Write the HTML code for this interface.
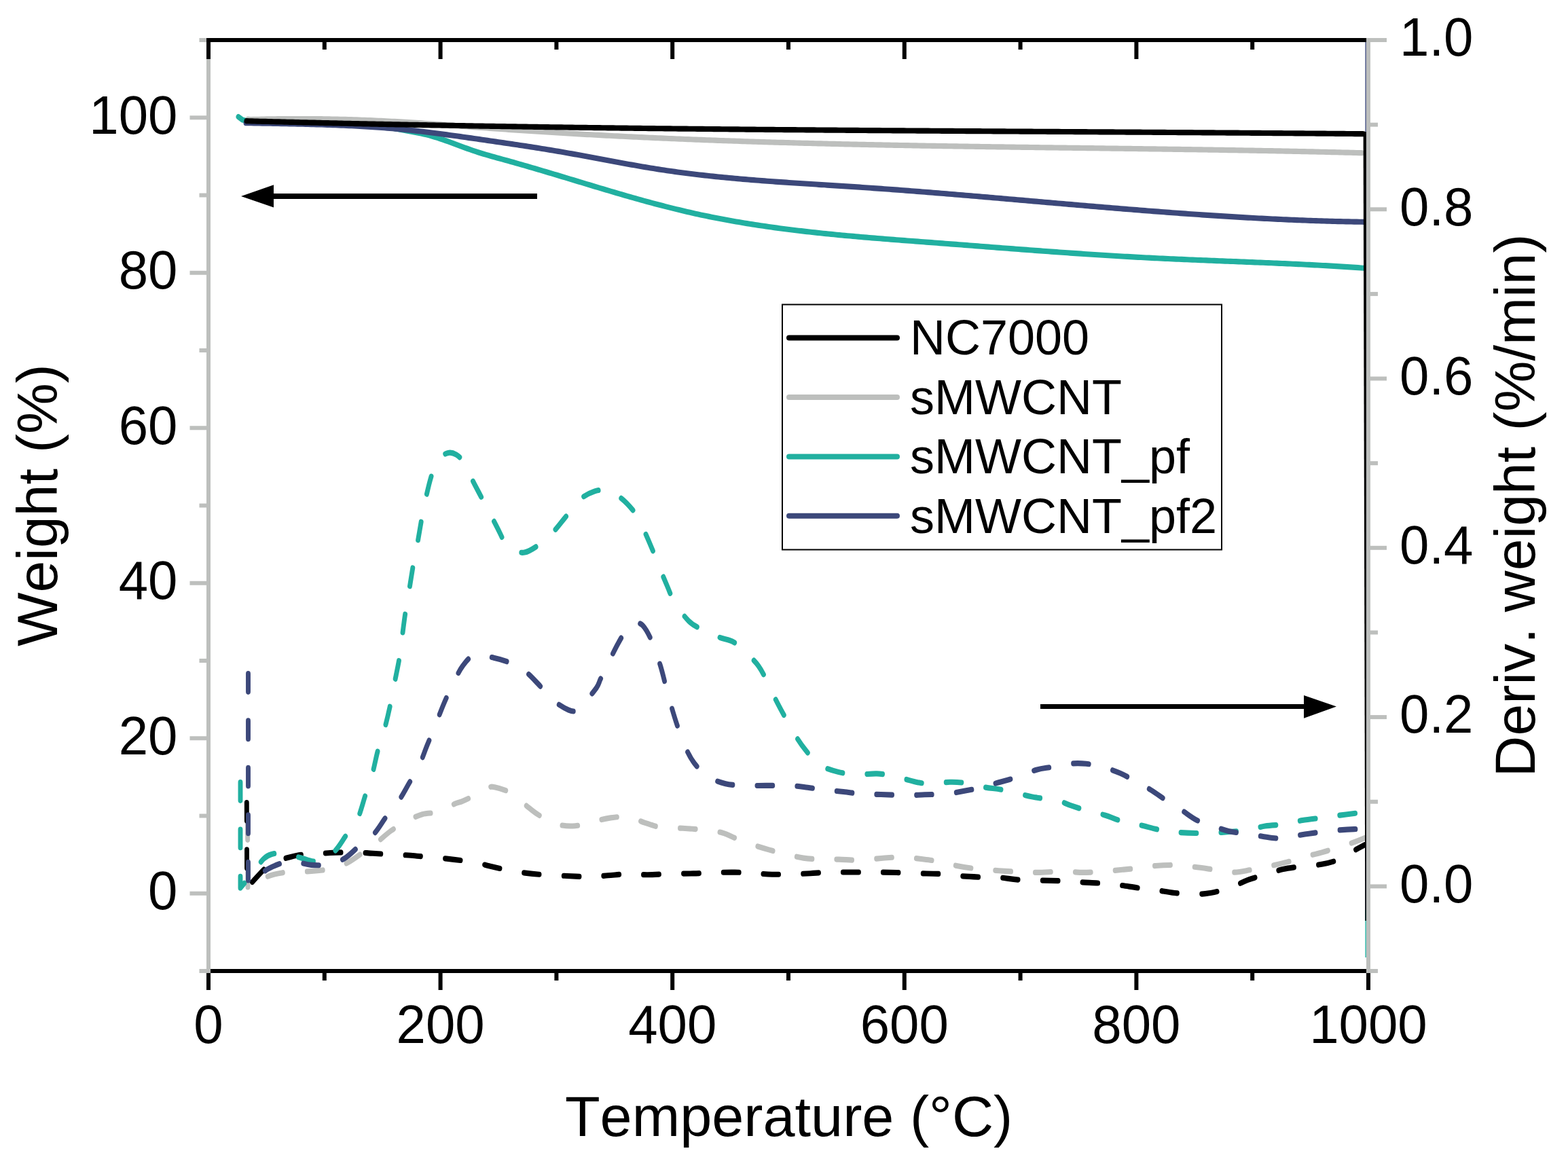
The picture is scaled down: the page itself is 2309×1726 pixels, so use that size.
<!DOCTYPE html>
<html><head><meta charset="utf-8"><title>TGA plot</title>
<style>html,body{margin:0;padding:0;background:#fff;}svg{display:block;}text{font-family:"Liberation Sans",Arial,sans-serif;fill:#000;font-kerning:none;font-feature-settings:"kern" 0;}</style>
</head><body>
<svg width="2309" height="1726" viewBox="0 0 2309 1726">
<rect x="0" y="0" width="2309" height="1726" fill="#fff"/>
<g transform="scale(1,1.18)">
<path d="M364.5 1025.42 C364.55 1032.49 364.72 1053.74 364.8 1067.8 C364.88 1081.85 364.97 1102.75 365 1109.75 C369.68 1107.18 384.05 1097.81 393.1 1094.32 C402.15 1090.83 410.22 1089.89 419.3 1088.81 C428.38 1087.74 438.35 1088.35 447.6 1087.88 C456.85 1087.42 468.27 1086.62 474.8 1086.02 C481.33 1085.41 480.63 1085.78 486.8 1084.24 C492.97 1082.7 502.6 1080.93 511.8 1076.78 C521 1072.63 534.97 1063.42 542 1059.32 C549.03 1055.23 548.35 1055.96 554 1052.2 C559.65 1048.45 568.63 1041.23 575.9 1036.78 C583.17 1032.33 589.95 1028.93 597.6 1025.51 C605.25 1022.09 613.73 1018.32 621.8 1016.27 C629.87 1014.22 637.93 1015.44 646 1013.22 C654.07 1011 664.53 1005.13 670.2 1002.97 C675.87 1000.81 676.03 1001.62 680 1000.25 C683.97 998.88 687.55 997.54 694 994.75 C700.45 991.95 712.97 985.52 718.7 983.47 C724.43 981.43 722.75 981.43 728.4 982.46 C734.05 983.49 744.93 985.9 752.6 989.66 C760.27 993.42 767.55 1000.38 774.4 1005 C781.25 1009.62 786.05 1013.43 793.7 1017.37 C801.35 1021.31 811.42 1026.43 820.3 1028.64 C829.18 1030.86 838.12 1031.2 847 1030.68 C855.88 1030.16 865.13 1027.15 873.6 1025.51 C882.07 1023.87 889.13 1021.86 897.8 1020.85 C906.47 1019.83 917.13 1018.46 925.6 1019.41 C934.07 1020.35 940.53 1024.31 948.6 1026.53 C956.67 1028.74 964.52 1031.51 974 1032.71 C983.48 1033.91 995.22 1033.22 1005.5 1033.73 C1015.78 1034.24 1026.12 1034.84 1035.7 1035.76 C1045.28 1036.68 1054.6 1037.32 1063 1039.24 C1071.4 1041.16 1078.63 1044.8 1086.1 1047.29 C1093.57 1049.77 1100.12 1051.95 1107.8 1054.15 C1115.48 1056.36 1124.17 1058.59 1132.2 1060.51 C1140.23 1062.43 1147.52 1063.95 1156 1065.68 C1164.48 1067.4 1173.95 1069.7 1183.1 1070.85 C1192.25 1071.99 1202.2 1072.26 1210.9 1072.54 C1219.6 1072.82 1226.03 1072.39 1235.3 1072.54 C1244.57 1072.7 1255.32 1073.77 1266.5 1073.47 C1277.68 1073.18 1291.73 1071.37 1302.4 1070.76 C1313.07 1070.16 1321.13 1069.58 1330.5 1069.83 C1339.87 1070.08 1349.63 1071.36 1358.6 1072.29 C1367.57 1073.22 1375.73 1074.03 1384.3 1075.42 C1392.87 1076.82 1400.73 1079.17 1410 1080.68 C1419.27 1082.19 1429.78 1083.5 1439.9 1084.49 C1450.02 1085.48 1460.08 1085.96 1470.7 1086.61 C1481.32 1087.26 1494 1088.01 1503.6 1088.39 C1513.2 1088.77 1518.18 1089.03 1528.3 1088.9 C1538.42 1088.77 1553.15 1087.63 1564.3 1087.63 C1575.45 1087.63 1585.25 1088.9 1595.2 1088.9 C1605.15 1088.9 1614.42 1088.21 1624 1087.63 C1633.58 1087.05 1643.45 1086.17 1652.7 1085.42 C1661.95 1084.68 1671.28 1083.95 1679.5 1083.14 C1687.72 1082.32 1693.28 1081.09 1702 1080.51 C1710.72 1079.93 1722.3 1079.41 1731.8 1079.66 C1741.3 1079.92 1749.3 1081.05 1759 1082.03 C1768.7 1083.02 1780.42 1084.49 1790 1085.59 C1799.58 1086.69 1807.85 1088.64 1816.5 1088.64 C1825.15 1088.64 1833.27 1086.84 1841.9 1085.59 C1850.53 1084.35 1859.3 1082.82 1868.3 1081.19 C1877.3 1079.55 1887.25 1077.71 1895.9 1075.76 C1904.55 1073.81 1911.92 1071.44 1920.2 1069.49 C1928.48 1067.54 1937.3 1066.02 1945.6 1064.07 C1953.9 1062.12 1962.23 1059.89 1970 1057.8 C1977.77 1055.71 1985.53 1053.53 1992.2 1051.53 C1998.87 1049.52 2007.03 1046.72 2010 1045.76" fill="none" stroke="#bdbfbd" stroke-width="6.9" stroke-linecap="round" stroke-linejoin="round" stroke-dasharray="22.8 36"/>
<path d="M363.3 1001.69 C363.33 1011.3 363.45 1041.57 363.5 1059.32 C363.55 1077.08 363.58 1100.07 363.6 1108.22 C367.8 1104.36 382.4 1090.41 388.8 1085.08 C395.2 1079.76 397.47 1078.42 402 1076.27 C406.53 1074.12 409.67 1073.73 416 1072.2 C422.33 1070.68 433.58 1067.99 440 1067.12 C446.42 1066.24 446.83 1067.4 454.5 1066.95 C462.17 1066.5 474.75 1064.94 486 1064.41 C497.25 1063.87 511.47 1063.62 522 1063.73 C532.53 1063.84 539.82 1064.62 549.2 1065.08 C558.58 1065.55 569.02 1066.12 578.3 1066.53 C587.58 1066.94 596.43 1067.02 604.9 1067.54 C613.37 1068.06 620.23 1068.97 629.1 1069.66 C637.97 1070.35 649.23 1070.93 658.1 1071.69 C666.97 1072.46 674.22 1073.22 682.3 1074.24 C690.38 1075.25 700.13 1076.68 706.6 1077.8 C713.07 1078.91 714.23 1079.56 721.1 1080.93 C727.97 1082.3 738.72 1084.55 747.8 1086.02 C756.88 1087.49 766.53 1088.79 775.6 1089.75 C784.67 1090.71 792.32 1091.2 802.2 1091.78 C812.08 1092.36 823.82 1092.81 834.9 1093.22 C845.98 1093.63 858.62 1094.34 868.7 1094.24 C878.78 1094.14 886.12 1093.21 895.4 1092.63 C904.68 1092.05 914.73 1090.9 924.4 1090.76 C934.07 1090.62 942.92 1091.82 953.4 1091.78 C963.88 1091.74 976 1090.78 987.3 1090.51 C998.6 1090.24 1010.72 1090.41 1021.2 1090.17 C1031.68 1089.93 1040.07 1089.32 1050.2 1089.07 C1060.33 1088.81 1072.17 1088.52 1082 1088.64 C1091.83 1088.77 1100.03 1089.39 1109.2 1089.83 C1118.37 1090.27 1127.17 1091.09 1137 1091.27 C1146.83 1091.45 1158.82 1091.14 1168.2 1090.93 C1177.58 1090.72 1184.15 1090.38 1193.3 1090 C1202.45 1089.62 1206.83 1088.87 1223.1 1088.64 C1239.37 1088.42 1274.65 1088.59 1290.9 1088.64 C1307.15 1088.7 1310.35 1088.74 1320.6 1088.98 C1330.85 1089.22 1342.3 1089.82 1352.4 1090.08 C1362.5 1090.35 1371.25 1090.07 1381.2 1090.59 C1391.15 1091.12 1401.63 1092.54 1412.1 1093.22 C1422.57 1093.9 1433.72 1094.31 1444 1094.66 C1454.28 1095.01 1464.03 1094.76 1473.8 1095.34 C1483.57 1095.92 1488.2 1097.47 1502.6 1098.14 C1517 1098.8 1545.3 1098.83 1560.2 1099.32 C1575.1 1099.82 1582.07 1100.61 1592 1101.1 C1601.93 1101.6 1610.53 1101.71 1619.8 1102.29 C1629.07 1102.87 1638.33 1103.62 1647.6 1104.58 C1656.87 1105.54 1666.33 1107.02 1675.4 1108.05 C1684.47 1109.08 1692.97 1109.7 1702 1110.76 C1711.03 1111.82 1719.7 1113.52 1729.6 1114.41 C1739.5 1115.3 1751.67 1116.26 1761.4 1116.1 C1771.13 1115.95 1779.23 1114.96 1788 1113.47 C1796.77 1111.99 1805.73 1109.75 1814 1107.2 C1822.27 1104.66 1828.93 1100.92 1837.6 1098.22 C1846.27 1095.52 1857.35 1093.26 1866 1091.02 C1874.65 1088.77 1880.83 1086.38 1889.5 1084.75 C1898.17 1083.11 1908.3 1082.23 1918 1081.19 C1927.7 1080.14 1938.53 1079.97 1947.7 1078.47 C1956.87 1076.98 1965.23 1075.04 1973 1072.2 C1980.77 1069.36 1988.13 1064.44 1994.3 1061.44 C2000.47 1058.45 2007.38 1055.44 2010 1054.24" fill="none" stroke="#000000" stroke-width="6.9" stroke-linecap="round" stroke-linejoin="round" stroke-dasharray="22.8 36"/>
<path d="M354 976.27 C354 987.29 354 1020.38 354 1042.37 C354 1064.36 354 1097.25 354 1108.22 C357 1105.16 366.33 1095.86 372 1089.83 C377.67 1083.8 383.33 1075.99 388 1072.03 C392.67 1068.08 395.17 1067.3 400 1066.1 C404.83 1064.9 410 1064.12 417 1064.83 C424 1065.54 433.83 1068.64 442 1070.34 C450.17 1072.03 457.83 1076.07 466 1075 C474.17 1073.93 483.73 1069.28 491 1063.9 C498.27 1058.52 503.77 1049.48 509.6 1042.71 C515.43 1035.95 521.2 1031.84 526 1023.31 C530.8 1014.77 534.73 1000.92 538.4 991.53 C542.07 982.13 544.98 976.13 548 966.95 C551.02 957.77 553.5 945.82 556.5 936.44 C559.5 927.06 562.97 920.1 566 910.68 C569.03 901.26 572.25 889.46 574.7 879.92 C577.15 870.37 578.48 863.04 580.7 853.39 C582.92 843.74 586.12 831.58 588 822.03 C589.88 812.49 590.5 805.71 592 796.1 C593.5 786.5 595.28 774.14 597 764.41 C598.72 754.68 600.37 747.64 602.3 737.71 C604.23 727.78 606.58 714.51 608.6 704.83 C610.62 695.16 612.33 689.22 614.4 679.66 C616.47 670.1 618.9 657.1 621 647.46 C623.1 637.81 624.5 631.02 627 621.78 C629.5 612.54 632.75 600.23 636 592.03 C639.25 583.84 642.5 577.09 646.5 572.63 C650.5 568.16 655.75 566.12 660 565.25 C664.25 564.39 668.4 565.72 672 567.46 C675.6 569.19 678.38 571.58 681.6 575.68 C684.82 579.77 687.27 585.37 691.3 592.03 C695.33 598.7 701.35 608.49 705.8 615.68 C710.25 622.87 713.57 627.99 718 635.17 C722.43 642.34 727.98 651.55 732.4 658.73 C736.82 665.9 740.23 673.6 744.5 678.22 C748.77 682.84 753.35 684.56 758 686.44 C762.65 688.32 766.58 690.52 772.4 689.49 C778.22 688.46 785.85 684.53 792.9 680.25 C799.95 675.97 808.23 669.45 814.7 663.81 C821.17 658.18 825.25 653.09 831.7 646.44 C838.15 639.79 846.15 629.44 853.4 623.9 C860.65 618.36 868.53 615.11 875.2 613.22 C881.87 611.33 886.73 611.05 893.4 612.54 C900.07 614.04 907.93 617.25 915.2 622.2 C922.47 627.16 931.57 635.86 937 642.29 C942.43 648.71 943.98 653.76 947.8 660.76 C951.62 667.77 956.2 676.79 959.9 684.32 C963.6 691.85 966.2 698.02 970 705.93 C973.8 713.84 978.77 724.05 982.7 731.78 C986.63 739.51 988.38 745.11 993.6 752.29 C998.82 759.46 1007.55 769.36 1014 774.83 C1020.45 780.3 1024.8 781.67 1032.3 785.08 C1039.8 788.5 1050.93 792.6 1059 795.34 C1067.07 798.08 1073.25 797.6 1080.7 801.53 C1088.15 805.45 1097.65 813.95 1103.7 818.9 C1109.75 823.84 1112.95 826.4 1117 831.19 C1121.05 835.97 1123.77 840.61 1128 847.63 C1132.23 854.65 1137.98 865.79 1142.4 873.31 C1146.82 880.82 1149.87 885.54 1154.5 892.71 C1159.13 899.89 1164.95 909.17 1170.2 916.36 C1175.45 923.55 1179.95 929.53 1186 935.85 C1192.05 942.16 1198.45 949.63 1206.5 954.24 C1214.55 958.84 1224.82 961.41 1234.3 963.47 C1243.78 965.54 1253.92 966.26 1263.4 966.61 C1272.88 966.96 1282.13 965.25 1291.2 965.59 C1300.27 965.93 1310.5 967.43 1317.8 968.64 C1325.1 969.86 1329.4 971.58 1335 972.88 C1340.6 974.18 1345.57 975.55 1351.4 976.44 C1357.23 977.33 1362.12 978.28 1370 978.22 C1377.88 978.16 1390.13 976.26 1398.7 976.1 C1407.27 975.95 1412.83 976.21 1421.4 977.29 C1429.97 978.36 1441.2 981.17 1450.1 982.54 C1459 983.91 1465.88 984.05 1474.8 985.51 C1483.72 986.96 1494.85 989.59 1503.6 991.27 C1512.35 992.95 1518.73 994.42 1527.3 995.59 C1535.87 996.77 1546.78 996.71 1555 998.31 C1563.22 999.9 1568.37 1002.77 1576.6 1005.17 C1584.83 1007.57 1596 1010.68 1604.4 1012.71 C1612.8 1014.75 1618.43 1015.14 1627 1017.37 C1635.57 1019.6 1647.22 1024.05 1655.8 1026.1 C1664.38 1028.15 1669.97 1028.08 1678.5 1029.66 C1687.03 1031.24 1698.12 1034.1 1707 1035.59 C1715.88 1037.09 1722.92 1037.94 1731.8 1038.64 C1740.68 1039.35 1750.95 1039.69 1760.3 1039.83 C1769.65 1039.97 1779.62 1039.77 1787.9 1039.49 C1796.18 1039.21 1801.72 1038.73 1810 1038.14 C1818.28 1037.54 1828.77 1037.13 1837.6 1035.93 C1846.43 1034.73 1853.63 1032.16 1863 1030.93 C1872.37 1029.7 1884.63 1029.76 1893.8 1028.56 C1902.97 1027.36 1909.02 1025.07 1918 1023.73 C1926.98 1022.39 1938.5 1021.55 1947.7 1020.51 C1956.9 1019.46 1964.72 1018.42 1973.2 1017.46 C1981.68 1016.5 1992.47 1015.4 1998.6 1014.75 C2004.73 1014.1 2008.1 1013.76 2010 1013.56" fill="none" stroke="#21b0a0" stroke-width="6.9" stroke-linecap="round" stroke-linejoin="round" stroke-dasharray="22.8 36"/>
<path d="M365.5 840.68 C365.5 862.99 365.5 930.65 365.5 974.58 C365.5 1018.5 365.5 1082.63 365.5 1104.24 C367.92 1102.54 375.03 1097.4 380 1094.07 C384.97 1090.73 388.75 1087.26 395.3 1084.24 C401.85 1081.21 412.95 1077.47 419.3 1075.93 C425.65 1074.39 426.87 1074.39 433.4 1075 C439.93 1075.61 449.97 1078.97 458.5 1079.58 C467.03 1080.18 476.43 1080.03 484.6 1078.64 C492.77 1077.26 500.07 1075.11 507.5 1071.27 C514.93 1067.43 522.03 1060.65 529.2 1055.59 C536.37 1050.54 543.93 1046.95 550.5 1040.93 C557.07 1034.92 562.55 1026.31 568.6 1019.49 C574.65 1012.67 581.15 1007.02 586.8 1000 C592.45 992.98 597.47 984.72 602.5 977.37 C607.53 970.03 612.58 963.8 617 955.93 C621.42 948.06 625.17 938.22 629 930.17 C632.83 922.12 635.95 916.19 640 907.63 C644.05 899.07 648.87 887.71 653.3 878.81 C657.73 869.92 661.9 862.22 666.6 854.24 C671.3 846.26 676.1 837.01 681.5 830.93 C686.9 824.86 691.42 819.46 699 817.8 C706.58 816.13 718.63 819.45 727 820.93 C735.37 822.42 741.47 823.86 749.2 826.69 C756.93 829.53 766.15 833.46 773.4 837.97 C780.65 842.47 785.88 847.75 792.7 853.73 C799.52 859.7 806.87 868.42 814.3 873.81 C821.73 879.21 831.45 884 837.3 886.1 C843.15 888.21 845.37 888.15 849.4 886.44 C853.43 884.73 856.67 880.52 861.5 875.85 C866.33 871.17 874.57 863.18 878.4 858.39 C882.23 853.6 881.63 852.23 884.5 847.12 C887.37 842.01 891.35 835 895.6 827.71 C899.85 820.42 905.33 810.55 910 803.39 C914.67 796.23 919.43 788.98 923.6 784.75 C927.77 780.51 931.17 778.63 935 777.97 C938.83 777.3 942.45 777.03 946.6 780.76 C950.75 784.49 955.6 792.05 959.9 800.34 C964.2 808.63 969.03 821.38 972.4 830.51 C975.77 839.63 977.17 845.9 980.1 855.08 C983.03 864.27 986.87 876.55 990 885.59 C993.13 894.63 995.6 901.34 998.9 909.32 C1002.2 917.3 1005.87 926.27 1009.8 933.47 C1013.73 940.68 1016.97 946.54 1022.5 952.54 C1028.03 958.55 1035.33 965.23 1043 969.49 C1050.67 973.76 1059.28 976.31 1068.5 978.14 C1077.72 979.96 1088.35 980.04 1098.3 980.42 C1108.25 980.81 1117.08 980.4 1128.2 980.42 C1139.32 980.45 1154.8 980.2 1165 980.59 C1175.2 980.99 1181.23 981.94 1189.4 982.8 C1197.57 983.66 1205.23 984.87 1214 985.76 C1222.77 986.65 1232.5 987.25 1242 988.14 C1251.5 989.03 1261.83 990.54 1271 991.1 C1280.17 991.67 1286.58 991.27 1297 991.53 C1307.42 991.78 1322.72 992.58 1333.5 992.63 C1344.28 992.67 1351.52 992.09 1361.7 991.78 C1371.88 991.47 1384.65 991.58 1394.6 990.76 C1404.55 989.94 1413.17 988.15 1421.4 986.86 C1429.63 985.58 1435.78 984.79 1444 983.05 C1452.22 981.31 1461.97 978.56 1470.7 976.44 C1479.43 974.32 1487.15 972.95 1496.4 970.34 C1505.65 967.73 1517.45 962.94 1526.2 960.76 C1534.95 958.59 1540.83 958.55 1548.9 957.29 C1556.97 956.03 1566.2 953.9 1574.6 953.22 C1583 952.54 1590.9 952.49 1599.3 953.22 C1607.7 953.95 1616.6 955.65 1625 957.63 C1633.4 959.6 1641.65 962.09 1649.7 965.08 C1657.75 968.08 1665.77 972.1 1673.3 975.59 C1680.83 979.08 1687.48 982.09 1694.9 986.02 C1702.32 989.94 1710.25 994.96 1717.8 999.15 C1725.35 1003.35 1732.75 1007.09 1740.2 1011.19 C1747.65 1015.28 1754.55 1020.35 1762.5 1023.73 C1770.45 1027.1 1780.15 1029.19 1787.9 1031.44 C1795.65 1033.69 1801.07 1035.65 1809 1037.2 C1816.93 1038.76 1827.2 1039.66 1835.5 1040.76 C1843.8 1041.86 1851.38 1042.91 1858.8 1043.81 C1866.22 1044.72 1873.47 1046.1 1880 1046.19 C1886.53 1046.27 1890.07 1045.28 1898 1044.32 C1905.93 1043.36 1917.18 1041.67 1927.6 1040.42 C1938.02 1039.18 1949.38 1037.8 1960.5 1036.86 C1971.62 1035.93 1986.05 1035.17 1994.3 1034.83 C2002.55 1034.49 2007.38 1034.83 2010 1034.83" fill="none" stroke="#3c487a" stroke-width="6.9" stroke-linecap="round" stroke-linejoin="round" stroke-dasharray="22.8 36"/>
<path d="M351 145.76 L357 149.58 L365 151.27 L450 152.12 L520 153.34 L524 153.26 L528 153.3 L532 153.44 L536 153.69 L540 154.02 L544 154.43 L548 154.91 L552 155.46 L556 156.05 L560 156.69 L564 157.36 L568 158.05 L572 158.75 L576 159.46 L580 160.16 L584 160.85 L588 161.52 L592 162.15 L596 162.76 L600 163.36 L604 163.96 L608 164.57 L612 165.19 L616 165.85 L620 166.55 L624 167.29 L628 168.1 L632 168.97 L636 169.92 L640 170.92 L644 171.98 L648 173.08 L652 174.23 L656 175.41 L660 176.62 L664 177.86 L668 179.1 L672 180.36 L676 181.62 L680 182.88 L684 184.13 L688 185.37 L692 186.58 L696 187.76 L700 188.91 L704 190.01 L708 191.09 L712 192.12 L716 193.13 L720 194.12 L724 195.09 L728 196.04 L732 196.98 L736 197.91 L740 198.84 L744 199.77 L748 200.71 L752 201.65 L756 202.6 L760 203.56 L764 204.52 L768 205.49 L772 206.46 L776 207.44 L780 208.42 L784 209.41 L788 210.41 L792 211.4 L796 212.4 L800 213.41 L804 214.42 L808 215.43 L812 216.44 L816 217.46 L820 218.48 L824 219.5 L828 220.52 L832 221.54 L836 222.57 L840 223.59 L844 224.62 L848 225.64 L852 226.67 L856 227.69 L860 228.72 L864 229.74 L868 230.76 L872 231.78 L876 232.8 L880 233.82 L884 234.83 L888 235.84 L892 236.85 L896 237.86 L900 238.86 L904 239.86 L908 240.85 L912 241.84 L916 242.83 L920 243.81 L924 244.78 L928 245.75 L932 246.71 L936 247.67 L940 248.62 L944 249.57 L948 250.51 L952 251.44 L956 252.36 L960 253.28 L964 254.18 L968 255.08 L972 255.97 L976 256.86 L980 257.73 L984 258.59 L988 259.44 L992 260.29 L996 261.12 L1000 261.94 L1004 262.76 L1008 263.56 L1012 264.35 L1016 265.12 L1020 265.89 L1024 266.64 L1028 267.39 L1032 268.12 L1036 268.84 L1040 269.54 L1044 270.24 L1048 270.93 L1052 271.6 L1056 272.26 L1060 272.92 L1064 273.56 L1068 274.19 L1072 274.81 L1076 275.43 L1080 276.03 L1084 276.62 L1088 277.2 L1092 277.78 L1096 278.34 L1100 278.9 L1104 279.44 L1108 279.98 L1112 280.51 L1116 281.03 L1120 281.54 L1124 282.04 L1128 282.53 L1132 283.02 L1136 283.5 L1140 283.97 L1144 284.43 L1148 284.89 L1152 285.34 L1156 285.78 L1160 286.21 L1164 286.64 L1168 287.06 L1172 287.47 L1176 287.88 L1180 288.28 L1184 288.67 L1188 289.06 L1192 289.44 L1196 289.81 L1200 290.18 L1204 290.55 L1208 290.91 L1212 291.26 L1216 291.61 L1220 291.95 L1224 292.29 L1228 292.63 L1232 292.96 L1236 293.28 L1240 293.6 L1244 293.92 L1248 294.23 L1252 294.54 L1256 294.85 L1260 295.15 L1264 295.44 L1268 295.74 L1272 296.03 L1276 296.32 L1280 296.6 L1284 296.89 L1288 297.17 L1292 297.45 L1296 297.72 L1300 297.99 L1304 298.26 L1308 298.53 L1312 298.8 L1316 299.07 L1320 299.33 L1324 299.59 L1328 299.86 L1332 300.12 L1336 300.38 L1340 300.63 L1344 300.89 L1348 301.15 L1352 301.41 L1356 301.66 L1360 301.92 L1364 302.18 L1368 302.44 L1372 302.69 L1376 302.95 L1380 303.21 L1384 303.47 L1388 303.73 L1392 303.99 L1396 304.25 L1400 304.51 L1404 304.77 L1408 305.03 L1412 305.3 L1416 305.56 L1420 305.82 L1424 306.08 L1428 306.34 L1432 306.61 L1436 306.87 L1440 307.13 L1444 307.4 L1448 307.66 L1452 307.92 L1456 308.18 L1460 308.44 L1464 308.71 L1468 308.97 L1472 309.23 L1476 309.49 L1480 309.75 L1484 310.01 L1488 310.27 L1492 310.52 L1496 310.78 L1500 311.04 L1504 311.3 L1508 311.55 L1512 311.81 L1516 312.06 L1520 312.31 L1524 312.56 L1528 312.82 L1532 313.07 L1536 313.32 L1540 313.56 L1544 313.81 L1548 314.06 L1552 314.3 L1556 314.54 L1560 314.79 L1564 315.03 L1568 315.27 L1572 315.5 L1576 315.74 L1580 315.97 L1584 316.21 L1588 316.44 L1592 316.67 L1596 316.9 L1600 317.12 L1604 317.35 L1608 317.57 L1612 317.79 L1616 318.01 L1620 318.23 L1624 318.44 L1628 318.66 L1632 318.87 L1636 319.08 L1640 319.28 L1644 319.49 L1648 319.69 L1652 319.89 L1656 320.09 L1660 320.28 L1664 320.48 L1668 320.67 L1672 320.86 L1676 321.04 L1680 321.22 L1684 321.4 L1688 321.58 L1692 321.76 L1696 321.93 L1700 322.1 L1704 322.27 L1708 322.43 L1712 322.59 L1716 322.75 L1720 322.91 L1724 323.07 L1728 323.22 L1732 323.37 L1736 323.52 L1740 323.67 L1744 323.82 L1748 323.97 L1752 324.11 L1756 324.25 L1760 324.39 L1764 324.53 L1768 324.67 L1772 324.81 L1776 324.95 L1780 325.09 L1784 325.22 L1788 325.36 L1792 325.49 L1796 325.63 L1800 325.76 L1804 325.9 L1808 326.03 L1812 326.16 L1816 326.3 L1820 326.43 L1824 326.56 L1828 326.7 L1832 326.83 L1836 326.97 L1840 327.1 L1844 327.24 L1848 327.38 L1852 327.52 L1856 327.65 L1860 327.79 L1864 327.94 L1868 328.08 L1872 328.22 L1876 328.37 L1880 328.51 L1884 328.66 L1888 328.81 L1892 328.96 L1896 329.11 L1900 329.27 L1904 329.43 L1908 329.59 L1912 329.75 L1916 329.91 L1920 330.08 L1924 330.25 L1928 330.42 L1932 330.59 L1936 330.77 L1940 330.95 L1944 331.13 L1948 331.31 L1952 331.5 L1956 331.69 L1960 331.89 L1964 332.09 L1968 332.29 L1972 332.49 L1976 332.7 L1980 332.92 L1984 333.13 L1988 333.35 L1992 333.58 L1996 333.81 L2000 334.04 L2004 334.28 L2008 334.52" fill="none" stroke="#21b0a0" stroke-width="6.9" stroke-linecap="round" stroke-linejoin="round"/>
<path d="M365 148.73 L369 149.2 L373 149.1 L377 149 L381 148.91 L385 148.83 L389 148.75 L393 148.68 L397 148.62 L401 148.56 L405 148.5 L409 148.46 L413 148.41 L417 148.38 L421 148.35 L425 148.32 L429 148.3 L433 148.29 L437 148.28 L441 148.28 L445 148.28 L449 148.29 L453 148.31 L457 148.33 L461 148.36 L465 148.39 L469 148.42 L473 148.47 L477 148.51 L481 148.57 L485 148.63 L489 148.69 L493 148.76 L497 148.84 L501 148.92 L505 149 L509 149.09 L513 149.19 L517 149.29 L521 149.4 L525 149.51 L529 149.63 L533 149.75 L537 149.88 L541 150.02 L545 150.15 L549 150.3 L553 150.45 L557 150.6 L561 150.76 L565 150.92 L569 151.09 L573 151.27 L577 151.45 L581 151.63 L585 151.82 L589 152.02 L593 152.21 L597 152.42 L601 152.63 L605 152.84 L609 153.06 L613 153.28 L617 153.51 L621 153.74 L625 153.98 L629 154.21 L633 154.45 L637 154.7 L641 154.94 L645 155.19 L649 155.44 L653 155.7 L657 155.95 L661 156.21 L665 156.46 L669 156.72 L673 156.98 L677 157.24 L681 157.5 L685 157.76 L689 158.02 L693 158.27 L697 158.53 L701 158.79 L705 159.04 L709 159.29 L713 159.54 L717 159.79 L721 160.04 L725 160.29 L729 160.53 L733 160.78 L737 161.02 L741 161.26 L745 161.49 L749 161.73 L753 161.96 L757 162.19 L761 162.42 L765 162.65 L769 162.88 L773 163.11 L777 163.33 L781 163.55 L785 163.77 L789 163.99 L793 164.21 L797 164.43 L801 164.64 L805 164.85 L809 165.06 L813 165.27 L817 165.48 L821 165.69 L825 165.89 L829 166.09 L833 166.29 L837 166.49 L841 166.69 L845 166.89 L849 167.08 L853 167.28 L857 167.47 L861 167.66 L865 167.85 L869 168.04 L873 168.22 L877 168.41 L881 168.59 L885 168.77 L889 168.95 L893 169.13 L897 169.31 L901 169.48 L905 169.66 L909 169.83 L913 170 L917 170.17 L921 170.34 L925 170.51 L929 170.67 L933 170.84 L937 171 L941 171.16 L945 171.32 L949 171.48 L953 171.64 L957 171.79 L961 171.95 L965 172.1 L969 172.25 L973 172.4 L977 172.55 L981 172.7 L985 172.85 L989 172.99 L993 173.14 L997 173.28 L1001 173.42 L1005 173.56 L1009 173.7 L1013 173.84 L1017 173.97 L1021 174.11 L1025 174.24 L1029 174.37 L1033 174.5 L1037 174.63 L1041 174.76 L1045 174.89 L1049 175.02 L1053 175.14 L1057 175.27 L1061 175.39 L1065 175.51 L1069 175.63 L1073 175.75 L1077 175.87 L1081 175.99 L1085 176.1 L1089 176.22 L1093 176.33 L1097 176.44 L1101 176.56 L1105 176.67 L1109 176.78 L1113 176.88 L1117 176.99 L1121 177.1 L1125 177.2 L1129 177.31 L1133 177.41 L1137 177.51 L1141 177.61 L1145 177.71 L1149 177.81 L1153 177.91 L1157 178.01 L1161 178.1 L1165 178.2 L1169 178.29 L1173 178.39 L1177 178.48 L1181 178.57 L1185 178.66 L1189 178.75 L1193 178.84 L1197 178.93 L1201 179.02 L1205 179.1 L1209 179.19 L1213 179.27 L1217 179.36 L1221 179.44 L1225 179.52 L1229 179.6 L1233 179.68 L1237 179.76 L1241 179.84 L1245 179.92 L1249 180 L1253 180.07 L1257 180.15 L1261 180.22 L1265 180.3 L1269 180.37 L1273 180.45 L1277 180.52 L1281 180.59 L1285 180.66 L1289 180.73 L1293 180.8 L1297 180.87 L1301 180.94 L1305 181 L1309 181.07 L1313 181.14 L1317 181.2 L1321 181.27 L1325 181.33 L1329 181.4 L1333 181.46 L1337 181.52 L1341 181.58 L1345 181.65 L1349 181.71 L1353 181.77 L1357 181.83 L1361 181.89 L1365 181.95 L1369 182 L1373 182.06 L1377 182.12 L1381 182.18 L1385 182.23 L1389 182.29 L1393 182.34 L1397 182.4 L1401 182.45 L1405 182.51 L1409 182.56 L1413 182.61 L1417 182.67 L1421 182.72 L1425 182.77 L1429 182.82 L1433 182.88 L1437 182.93 L1441 182.98 L1445 183.03 L1449 183.08 L1453 183.13 L1457 183.18 L1461 183.23 L1465 183.28 L1469 183.32 L1473 183.37 L1477 183.42 L1481 183.47 L1485 183.52 L1489 183.56 L1493 183.61 L1497 183.66 L1501 183.7 L1505 183.75 L1509 183.8 L1513 183.84 L1517 183.89 L1521 183.93 L1525 183.98 L1529 184.02 L1533 184.07 L1537 184.11 L1541 184.16 L1545 184.2 L1549 184.25 L1553 184.29 L1557 184.34 L1561 184.38 L1565 184.43 L1569 184.47 L1573 184.52 L1577 184.56 L1581 184.6 L1585 184.65 L1589 184.69 L1593 184.74 L1597 184.78 L1601 184.82 L1605 184.87 L1609 184.91 L1613 184.96 L1617 185 L1621 185.04 L1625 185.09 L1629 185.13 L1633 185.18 L1637 185.22 L1641 185.27 L1645 185.31 L1649 185.36 L1653 185.4 L1657 185.45 L1661 185.49 L1665 185.54 L1669 185.58 L1673 185.63 L1677 185.67 L1681 185.72 L1685 185.77 L1689 185.81 L1693 185.86 L1697 185.9 L1701 185.95 L1705 186 L1709 186.05 L1713 186.09 L1717 186.14 L1721 186.19 L1725 186.24 L1729 186.29 L1733 186.34 L1737 186.39 L1741 186.44 L1745 186.49 L1749 186.54 L1753 186.59 L1757 186.64 L1761 186.69 L1765 186.74 L1769 186.79 L1773 186.85 L1777 186.9 L1781 186.95 L1785 187 L1789 187.06 L1793 187.11 L1797 187.17 L1801 187.22 L1805 187.28 L1809 187.34 L1813 187.39 L1817 187.45 L1821 187.51 L1825 187.57 L1829 187.62 L1833 187.68 L1837 187.74 L1841 187.8 L1845 187.86 L1849 187.93 L1853 187.99 L1857 188.05 L1861 188.11 L1865 188.18 L1869 188.24 L1873 188.3 L1877 188.37 L1881 188.44 L1885 188.5 L1889 188.57 L1893 188.64 L1897 188.71 L1901 188.78 L1905 188.85 L1909 188.92 L1913 188.99 L1917 189.06 L1921 189.13 L1925 189.21 L1929 189.28 L1933 189.35 L1937 189.43 L1941 189.51 L1945 189.58 L1949 189.66 L1953 189.74 L1957 189.82 L1961 189.9 L1965 189.98 L1969 190.06 L1973 190.14 L1977 190.23 L1981 190.31 L1985 190.4 L1989 190.48 L1993 190.57 L1997 190.66 L2001 190.75 L2005 190.83 L2006 190.86" fill="none" stroke="#bdbfbd" stroke-width="6.9" stroke-linecap="round" stroke-linejoin="round"/>
<path d="M362 153.45 L366 153.53 L370 153.6 L374 153.67 L378 153.74 L382 153.81 L386 153.87 L390 153.94 L394 154.01 L398 154.07 L402 154.14 L406 154.2 L410 154.27 L414 154.33 L418 154.4 L422 154.47 L426 154.54 L430 154.61 L434 154.68 L438 154.76 L442 154.83 L446 154.91 L450 154.99 L454 155.08 L458 155.17 L462 155.26 L466 155.35 L470 155.45 L474 155.55 L478 155.66 L482 155.77 L486 155.89 L490 156.01 L494 156.14 L498 156.27 L502 156.41 L506 156.55 L510 156.7 L514 156.85 L518 157.02 L522 157.18 L526 157.36 L530 157.54 L534 157.73 L538 157.93 L542 158.14 L546 158.35 L550 158.57 L554 158.81 L558 159.05 L562 159.29 L566 159.55 L570 159.82 L574 160.1 L578 160.39 L582 160.68 L586 160.99 L590 161.31 L594 161.64 L598 161.98 L602 162.33 L606 162.69 L610 163.06 L614 163.44 L618 163.83 L622 164.23 L626 164.63 L630 165.05 L634 165.47 L638 165.89 L642 166.33 L646 166.77 L650 167.21 L654 167.66 L658 168.12 L662 168.58 L666 169.04 L670 169.51 L674 169.98 L678 170.46 L682 170.94 L686 171.42 L690 171.9 L694 172.38 L698 172.86 L702 173.35 L706 173.83 L710 174.32 L714 174.81 L718 175.29 L722 175.78 L726 176.27 L730 176.77 L734 177.26 L738 177.76 L742 178.25 L746 178.75 L750 179.26 L754 179.76 L758 180.27 L762 180.78 L766 181.29 L770 181.81 L774 182.33 L778 182.85 L782 183.38 L786 183.91 L790 184.45 L794 184.99 L798 185.53 L802 186.08 L806 186.63 L810 187.19 L814 187.75 L818 188.32 L822 188.89 L826 189.47 L830 190.06 L834 190.65 L838 191.25 L842 191.85 L846 192.46 L850 193.07 L854 193.69 L858 194.31 L862 194.93 L866 195.56 L870 196.19 L874 196.82 L878 197.46 L882 198.09 L886 198.73 L890 199.36 L894 200 L898 200.63 L902 201.26 L906 201.89 L910 202.52 L914 203.14 L918 203.77 L922 204.38 L926 205 L930 205.61 L934 206.21 L938 206.81 L942 207.4 L946 207.98 L950 208.56 L954 209.13 L958 209.69 L962 210.24 L966 210.79 L970 211.32 L974 211.85 L978 212.36 L982 212.86 L986 213.36 L990 213.84 L994 214.31 L998 214.78 L1002 215.24 L1006 215.68 L1010 216.12 L1014 216.55 L1018 216.97 L1022 217.39 L1026 217.79 L1030 218.19 L1034 218.58 L1038 218.96 L1042 219.33 L1046 219.7 L1050 220.06 L1054 220.41 L1058 220.76 L1062 221.1 L1066 221.43 L1070 221.75 L1074 222.08 L1078 222.39 L1082 222.7 L1086 223 L1090 223.3 L1094 223.59 L1098 223.88 L1102 224.16 L1106 224.44 L1110 224.71 L1114 224.98 L1118 225.25 L1122 225.51 L1126 225.76 L1130 226.02 L1134 226.27 L1138 226.51 L1142 226.76 L1146 227 L1150 227.23 L1154 227.47 L1158 227.7 L1162 227.93 L1166 228.16 L1170 228.38 L1174 228.6 L1178 228.83 L1182 229.05 L1186 229.26 L1190 229.48 L1194 229.7 L1198 229.92 L1202 230.13 L1206 230.35 L1210 230.56 L1214 230.77 L1218 230.99 L1222 231.2 L1226 231.42 L1230 231.63 L1234 231.85 L1238 232.07 L1242 232.28 L1246 232.5 L1250 232.72 L1254 232.95 L1258 233.17 L1262 233.4 L1266 233.63 L1270 233.86 L1274 234.09 L1278 234.32 L1282 234.56 L1286 234.8 L1290 235.04 L1294 235.28 L1298 235.52 L1302 235.77 L1306 236.01 L1310 236.26 L1314 236.51 L1318 236.77 L1322 237.02 L1326 237.28 L1330 237.53 L1334 237.79 L1338 238.05 L1342 238.32 L1346 238.58 L1350 238.85 L1354 239.11 L1358 239.38 L1362 239.65 L1366 239.92 L1370 240.19 L1374 240.46 L1378 240.74 L1382 241.01 L1386 241.29 L1390 241.57 L1394 241.84 L1398 242.12 L1402 242.4 L1406 242.69 L1410 242.97 L1414 243.25 L1418 243.54 L1422 243.82 L1426 244.11 L1430 244.39 L1434 244.68 L1438 244.97 L1442 245.26 L1446 245.55 L1450 245.84 L1454 246.13 L1458 246.42 L1462 246.71 L1466 247 L1470 247.29 L1474 247.59 L1478 247.88 L1482 248.17 L1486 248.47 L1490 248.76 L1494 249.06 L1498 249.35 L1502 249.65 L1506 249.94 L1510 250.24 L1514 250.53 L1518 250.83 L1522 251.12 L1526 251.42 L1530 251.71 L1534 252.01 L1538 252.3 L1542 252.6 L1546 252.89 L1550 253.19 L1554 253.48 L1558 253.77 L1562 254.07 L1566 254.36 L1570 254.65 L1574 254.95 L1578 255.24 L1582 255.53 L1586 255.82 L1590 256.11 L1594 256.4 L1598 256.69 L1602 256.98 L1606 257.27 L1610 257.55 L1614 257.84 L1618 258.13 L1622 258.41 L1626 258.69 L1630 258.98 L1634 259.26 L1638 259.54 L1642 259.82 L1646 260.1 L1650 260.38 L1654 260.66 L1658 260.93 L1662 261.21 L1666 261.48 L1670 261.75 L1674 262.02 L1678 262.29 L1682 262.56 L1686 262.83 L1690 263.1 L1694 263.36 L1698 263.62 L1702 263.88 L1706 264.14 L1710 264.4 L1714 264.66 L1718 264.92 L1722 265.17 L1726 265.42 L1730 265.67 L1734 265.92 L1738 266.17 L1742 266.41 L1746 266.66 L1750 266.9 L1754 267.14 L1758 267.37 L1762 267.61 L1766 267.84 L1770 268.07 L1774 268.3 L1778 268.53 L1782 268.76 L1786 268.98 L1790 269.2 L1794 269.42 L1798 269.64 L1802 269.85 L1806 270.06 L1810 270.27 L1814 270.48 L1818 270.68 L1822 270.88 L1826 271.08 L1830 271.28 L1834 271.48 L1838 271.67 L1842 271.86 L1846 272.04 L1850 272.23 L1854 272.41 L1858 272.59 L1862 272.76 L1866 272.93 L1870 273.1 L1874 273.27 L1878 273.44 L1882 273.6 L1886 273.76 L1890 273.91 L1894 274.06 L1898 274.21 L1902 274.36 L1906 274.5 L1910 274.64 L1914 274.78 L1918 274.91 L1922 275.04 L1926 275.17 L1930 275.29 L1934 275.41 L1938 275.52 L1942 275.64 L1946 275.75 L1950 275.85 L1954 275.95 L1958 276.05 L1962 276.15 L1966 276.24 L1970 276.33 L1974 276.41 L1978 276.49 L1982 276.57 L1986 276.64 L1990 276.71 L1994 276.77 L1998 276.84 L2002 276.89 L2006 276.95 L2008 276.97" fill="none" stroke="#3c487a" stroke-width="6.9" stroke-linecap="round" stroke-linejoin="round"/>
<path d="M363 151 L367 151.09 L371 151.18 L375 151.27 L379 151.36 L383 151.45 L387 151.53 L391 151.62 L395 151.71 L399 151.8 L403 151.88 L407 151.97 L411 152.06 L415 152.14 L419 152.23 L423 152.31 L427 152.4 L431 152.48 L435 152.56 L439 152.65 L443 152.73 L447 152.81 L451 152.89 L455 152.97 L459 153.05 L463 153.13 L467 153.21 L471 153.29 L475 153.37 L479 153.45 L483 153.53 L487 153.61 L491 153.68 L495 153.76 L499 153.84 L503 153.91 L507 153.99 L511 154.06 L515 154.14 L519 154.21 L523 154.29 L527 154.36 L531 154.43 L535 154.51 L539 154.58 L543 154.65 L547 154.72 L551 154.79 L555 154.86 L559 154.93 L563 155 L567 155.07 L571 155.14 L575 155.21 L579 155.28 L583 155.35 L587 155.42 L591 155.48 L595 155.55 L599 155.62 L603 155.68 L607 155.75 L611 155.81 L615 155.88 L619 155.94 L623 156.01 L627 156.07 L631 156.14 L635 156.2 L639 156.26 L643 156.32 L647 156.39 L651 156.45 L655 156.51 L659 156.57 L663 156.63 L667 156.69 L671 156.75 L675 156.81 L679 156.87 L683 156.93 L687 156.99 L691 157.05 L695 157.11 L699 157.16 L703 157.22 L707 157.28 L711 157.33 L715 157.39 L719 157.45 L723 157.5 L727 157.56 L731 157.61 L735 157.67 L739 157.72 L743 157.77 L747 157.83 L751 157.88 L755 157.94 L759 157.99 L763 158.04 L767 158.09 L771 158.14 L775 158.2 L779 158.25 L783 158.3 L787 158.35 L791 158.4 L795 158.45 L799 158.5 L803 158.55 L807 158.6 L811 158.65 L815 158.69 L819 158.74 L823 158.79 L827 158.84 L831 158.89 L835 158.93 L839 158.98 L843 159.03 L847 159.07 L851 159.12 L855 159.16 L859 159.21 L863 159.25 L867 159.3 L871 159.34 L875 159.39 L879 159.43 L883 159.48 L887 159.52 L891 159.56 L895 159.61 L899 159.65 L903 159.69 L907 159.73 L911 159.78 L915 159.82 L919 159.86 L923 159.9 L927 159.94 L931 159.98 L935 160.02 L939 160.06 L943 160.1 L947 160.14 L951 160.18 L955 160.22 L959 160.26 L963 160.3 L967 160.34 L971 160.38 L975 160.41 L979 160.45 L983 160.49 L987 160.53 L991 160.56 L995 160.6 L999 160.64 L1003 160.67 L1007 160.71 L1011 160.75 L1015 160.78 L1019 160.82 L1023 160.85 L1027 160.89 L1031 160.92 L1035 160.96 L1039 160.99 L1043 161.03 L1047 161.06 L1051 161.1 L1055 161.13 L1059 161.16 L1063 161.2 L1067 161.23 L1071 161.26 L1075 161.3 L1079 161.33 L1083 161.36 L1087 161.39 L1091 161.43 L1095 161.46 L1099 161.49 L1103 161.52 L1107 161.55 L1111 161.58 L1115 161.62 L1119 161.65 L1123 161.68 L1127 161.71 L1131 161.74 L1135 161.77 L1139 161.8 L1143 161.83 L1147 161.86 L1151 161.89 L1155 161.92 L1159 161.95 L1163 161.98 L1167 162 L1171 162.03 L1175 162.06 L1179 162.09 L1183 162.12 L1187 162.15 L1191 162.18 L1195 162.2 L1199 162.23 L1203 162.26 L1207 162.29 L1211 162.31 L1215 162.34 L1219 162.37 L1223 162.39 L1227 162.42 L1231 162.45 L1235 162.47 L1239 162.5 L1243 162.53 L1247 162.55 L1251 162.58 L1255 162.61 L1259 162.63 L1263 162.66 L1267 162.68 L1271 162.71 L1275 162.73 L1279 162.76 L1283 162.78 L1287 162.81 L1291 162.83 L1295 162.86 L1299 162.88 L1303 162.91 L1307 162.93 L1311 162.96 L1315 162.98 L1319 163.01 L1323 163.03 L1327 163.05 L1331 163.08 L1335 163.1 L1339 163.13 L1343 163.15 L1347 163.17 L1351 163.2 L1355 163.22 L1359 163.24 L1363 163.27 L1367 163.29 L1371 163.31 L1375 163.34 L1379 163.36 L1383 163.38 L1387 163.4 L1391 163.43 L1395 163.45 L1399 163.47 L1403 163.5 L1407 163.52 L1411 163.54 L1415 163.56 L1419 163.58 L1423 163.61 L1427 163.63 L1431 163.65 L1435 163.67 L1439 163.7 L1443 163.72 L1447 163.74 L1451 163.76 L1455 163.78 L1459 163.81 L1463 163.83 L1467 163.85 L1471 163.87 L1475 163.89 L1479 163.91 L1483 163.94 L1487 163.96 L1491 163.98 L1495 164 L1499 164.02 L1503 164.04 L1507 164.07 L1511 164.09 L1515 164.11 L1519 164.13 L1523 164.15 L1527 164.17 L1531 164.19 L1535 164.22 L1539 164.24 L1543 164.26 L1547 164.28 L1551 164.3 L1555 164.32 L1559 164.34 L1563 164.37 L1567 164.39 L1571 164.41 L1575 164.43 L1579 164.45 L1583 164.47 L1587 164.49 L1591 164.52 L1595 164.54 L1599 164.56 L1603 164.58 L1607 164.6 L1611 164.62 L1615 164.65 L1619 164.67 L1623 164.69 L1627 164.71 L1631 164.73 L1635 164.75 L1639 164.77 L1643 164.8 L1647 164.82 L1651 164.84 L1655 164.86 L1659 164.88 L1663 164.91 L1667 164.93 L1671 164.95 L1675 164.97 L1679 164.99 L1683 165.02 L1687 165.04 L1691 165.06 L1695 165.08 L1699 165.11 L1703 165.13 L1707 165.15 L1711 165.17 L1715 165.2 L1719 165.22 L1723 165.24 L1727 165.26 L1731 165.29 L1735 165.31 L1739 165.33 L1743 165.35 L1747 165.38 L1751 165.4 L1755 165.42 L1759 165.45 L1763 165.47 L1767 165.49 L1771 165.52 L1775 165.54 L1779 165.57 L1783 165.59 L1787 165.61 L1791 165.64 L1795 165.66 L1799 165.69 L1803 165.71 L1807 165.73 L1811 165.76 L1815 165.78 L1819 165.81 L1823 165.83 L1827 165.86 L1831 165.88 L1835 165.91 L1839 165.93 L1843 165.96 L1847 165.98 L1851 166.01 L1855 166.03 L1859 166.06 L1863 166.09 L1867 166.11 L1871 166.14 L1875 166.17 L1879 166.19 L1883 166.22 L1887 166.24 L1891 166.27 L1895 166.3 L1899 166.33 L1903 166.35 L1907 166.38 L1911 166.41 L1915 166.43 L1919 166.46 L1923 166.49 L1927 166.52 L1931 166.55 L1935 166.57 L1939 166.6 L1943 166.63 L1947 166.66 L1951 166.69 L1955 166.72 L1959 166.75 L1963 166.78 L1967 166.81 L1971 166.84 L1975 166.87 L1979 166.9 L1983 166.93 L1987 166.96 L1991 166.99 L1995 167.02 L1999 167.05 L2003 167.08 L2007 167.11 L2008 167.12" fill="none" stroke="#000000" stroke-width="6.9" stroke-linecap="round" stroke-linejoin="round"/>
</g>
<line x1="2011.1" y1="62" x2="2011.1" y2="1356" stroke="#3c487a" stroke-width="1.4"/>
<line x1="2011.1" y1="1340" x2="2011.1" y2="1410" stroke="#21b0a0" stroke-width="1.4"/>
<polygon points="2007.6,194 2011.8,194 2011.8,1356 2010.3,1356" fill="#000"/>
<rect x="401" y="285" width="390" height="8" fill="#000"/>
<polygon points="355,289 403,272.2 403,305.6" fill="#000"/>
<rect x="1532" y="1037" width="390" height="7" fill="#000"/>
<polygon points="1968,1040.5 1920,1023.9 1920,1057.8" fill="#000"/>
<line x1="307" y1="56" x2="307" y2="1433" stroke="#bdbfbd" stroke-width="6"/>
<line x1="293.5" y1="1430" x2="304" y2="1430" stroke="#bdbfbd" stroke-width="6"/>
<line x1="279.5" y1="1315.75" x2="304" y2="1315.75" stroke="#bdbfbd" stroke-width="6"/>
<line x1="293.5" y1="1201.5" x2="304" y2="1201.5" stroke="#bdbfbd" stroke-width="6"/>
<line x1="279.5" y1="1087.25" x2="304" y2="1087.25" stroke="#bdbfbd" stroke-width="6"/>
<line x1="293.5" y1="973" x2="304" y2="973" stroke="#bdbfbd" stroke-width="6"/>
<line x1="279.5" y1="858.75" x2="304" y2="858.75" stroke="#bdbfbd" stroke-width="6"/>
<line x1="293.5" y1="744.5" x2="304" y2="744.5" stroke="#bdbfbd" stroke-width="6"/>
<line x1="279.5" y1="630.25" x2="304" y2="630.25" stroke="#bdbfbd" stroke-width="6"/>
<line x1="293.5" y1="516" x2="304" y2="516" stroke="#bdbfbd" stroke-width="6"/>
<line x1="279.5" y1="401.75" x2="304" y2="401.75" stroke="#bdbfbd" stroke-width="6"/>
<line x1="293.5" y1="287.5" x2="304" y2="287.5" stroke="#bdbfbd" stroke-width="6"/>
<line x1="279.5" y1="173.25" x2="304" y2="173.25" stroke="#bdbfbd" stroke-width="6"/>
<line x1="293.5" y1="59" x2="304" y2="59" stroke="#bdbfbd" stroke-width="6"/>
<line x1="304" y1="59" x2="2015" y2="59" stroke="#000" stroke-width="6"/>
<line x1="307" y1="62" x2="307" y2="87" stroke="#000" stroke-width="6"/>
<line x1="477.8" y1="62" x2="477.8" y2="73" stroke="#000" stroke-width="6"/>
<line x1="648.6" y1="62" x2="648.6" y2="87" stroke="#000" stroke-width="6"/>
<line x1="819.4" y1="62" x2="819.4" y2="73" stroke="#000" stroke-width="6"/>
<line x1="990.2" y1="62" x2="990.2" y2="87" stroke="#000" stroke-width="6"/>
<line x1="1161" y1="62" x2="1161" y2="73" stroke="#000" stroke-width="6"/>
<line x1="1331.8" y1="62" x2="1331.8" y2="87" stroke="#000" stroke-width="6"/>
<line x1="1502.6" y1="62" x2="1502.6" y2="73" stroke="#000" stroke-width="6"/>
<line x1="1673.4" y1="62" x2="1673.4" y2="87" stroke="#000" stroke-width="6"/>
<line x1="1844.2" y1="62" x2="1844.2" y2="73" stroke="#000" stroke-width="6"/>
<line x1="2015" y1="62" x2="2015" y2="87" stroke="#000" stroke-width="6"/>
<line x1="307" y1="1430" x2="2015" y2="1430" stroke="#000" stroke-width="6"/>
<line x1="307" y1="1433" x2="307" y2="1458" stroke="#000" stroke-width="6"/>
<line x1="477.8" y1="1433" x2="477.8" y2="1444" stroke="#000" stroke-width="6"/>
<line x1="648.6" y1="1433" x2="648.6" y2="1458" stroke="#000" stroke-width="6"/>
<line x1="819.4" y1="1433" x2="819.4" y2="1444" stroke="#000" stroke-width="6"/>
<line x1="990.2" y1="1433" x2="990.2" y2="1458" stroke="#000" stroke-width="6"/>
<line x1="1161" y1="1433" x2="1161" y2="1444" stroke="#000" stroke-width="6"/>
<line x1="1331.8" y1="1433" x2="1331.8" y2="1458" stroke="#000" stroke-width="6"/>
<line x1="1502.6" y1="1433" x2="1502.6" y2="1444" stroke="#000" stroke-width="6"/>
<line x1="1673.4" y1="1433" x2="1673.4" y2="1458" stroke="#000" stroke-width="6"/>
<line x1="1844.2" y1="1433" x2="1844.2" y2="1444" stroke="#000" stroke-width="6"/>
<line x1="2015" y1="1433" x2="2015" y2="1458" stroke="#000" stroke-width="6"/>
<line x1="307" y1="1427" x2="307" y2="1433" stroke="#bdbfbd" stroke-width="6"/>
<line x1="2015" y1="56" x2="2015" y2="1433" stroke="#bdbfbd" stroke-width="6"/>
<line x1="2018" y1="1430" x2="2029" y2="1430" stroke="#bdbfbd" stroke-width="6"/>
<line x1="2018" y1="1305.36" x2="2042" y2="1305.36" stroke="#bdbfbd" stroke-width="6"/>
<line x1="2018" y1="1180.73" x2="2029" y2="1180.73" stroke="#bdbfbd" stroke-width="6"/>
<line x1="2018" y1="1056.09" x2="2042" y2="1056.09" stroke="#bdbfbd" stroke-width="6"/>
<line x1="2018" y1="931.45" x2="2029" y2="931.45" stroke="#bdbfbd" stroke-width="6"/>
<line x1="2018" y1="806.82" x2="2042" y2="806.82" stroke="#bdbfbd" stroke-width="6"/>
<line x1="2018" y1="682.18" x2="2029" y2="682.18" stroke="#bdbfbd" stroke-width="6"/>
<line x1="2018" y1="557.55" x2="2042" y2="557.55" stroke="#bdbfbd" stroke-width="6"/>
<line x1="2018" y1="432.91" x2="2029" y2="432.91" stroke="#bdbfbd" stroke-width="6"/>
<line x1="2018" y1="308.27" x2="2042" y2="308.27" stroke="#bdbfbd" stroke-width="6"/>
<line x1="2018" y1="183.64" x2="2029" y2="183.64" stroke="#bdbfbd" stroke-width="6"/>
<line x1="2018" y1="59" x2="2042" y2="59" stroke="#bdbfbd" stroke-width="6"/>
<text transform="translate(261.5,1339.15) scale(0.975,1)" font-size="80" text-anchor="end">0</text>
<text transform="translate(261.5,1110.65) scale(0.975,1)" font-size="80" text-anchor="end">20</text>
<text transform="translate(261.5,882.15) scale(0.975,1)" font-size="80" text-anchor="end">40</text>
<text transform="translate(261.5,653.65) scale(0.975,1)" font-size="80" text-anchor="end">60</text>
<text transform="translate(261.5,425.15) scale(0.975,1)" font-size="80" text-anchor="end">80</text>
<text transform="translate(261.5,196.65) scale(0.975,1)" font-size="80" text-anchor="end">100</text>
<text transform="translate(2061,1328.76) scale(0.975,1)" font-size="80">0.0</text>
<text transform="translate(2061,1079.49) scale(0.975,1)" font-size="80">0.2</text>
<text transform="translate(2061,830.22) scale(0.975,1)" font-size="80">0.4</text>
<text transform="translate(2061,580.95) scale(0.975,1)" font-size="80">0.6</text>
<text transform="translate(2061,331.67) scale(0.975,1)" font-size="80">0.8</text>
<text transform="translate(2061,82.4) scale(0.975,1)" font-size="80">1.0</text>
<text transform="translate(307,1535.6) scale(0.975,1)" font-size="80" text-anchor="middle">0</text>
<text transform="translate(648.6,1535.6) scale(0.975,1)" font-size="80" text-anchor="middle">200</text>
<text transform="translate(990.2,1535.6) scale(0.975,1)" font-size="80" text-anchor="middle">400</text>
<text transform="translate(1331.8,1535.6) scale(0.975,1)" font-size="80" text-anchor="middle">600</text>
<text transform="translate(1673.4,1535.6) scale(0.975,1)" font-size="80" text-anchor="middle">800</text>
<text transform="translate(2015,1535.6) scale(0.975,1)" font-size="80" text-anchor="middle">1000</text>
<text transform="translate(1161.6,1673.2) scale(1.0077,1)" font-size="84" text-anchor="middle">Temperature (°C)</text>
<text transform="translate(84,744) rotate(-90)" font-size="84" text-anchor="middle">Weight (%)</text>
<text transform="translate(2260,744.4) rotate(-90) scale(1.0025,1)" font-size="84" text-anchor="middle">Deriv. weight (%/min)</text>
<rect x="1152" y="448.5" width="647" height="361" fill="#fff" stroke="#000" stroke-width="2"/>
<line x1="1162" y1="497.4" x2="1321" y2="497.4" stroke="#000000" stroke-width="8" stroke-linecap="round"/>
<text x="1340" y="522" font-size="72">NC7000</text>
<line x1="1162" y1="585" x2="1321" y2="585" stroke="#bdbfbd" stroke-width="8" stroke-linecap="round"/>
<text x="1340" y="610" font-size="72">sMWCNT</text>
<line x1="1162" y1="672.4" x2="1321" y2="672.4" stroke="#21b0a0" stroke-width="8" stroke-linecap="round"/>
<text x="1340" y="697" font-size="72">sMWCNT_pf</text>
<line x1="1162" y1="759.7" x2="1321" y2="759.7" stroke="#3c487a" stroke-width="8" stroke-linecap="round"/>
<text x="1340" y="784.6" font-size="72">sMWCNT_pf2</text>
</svg>
</body></html>
